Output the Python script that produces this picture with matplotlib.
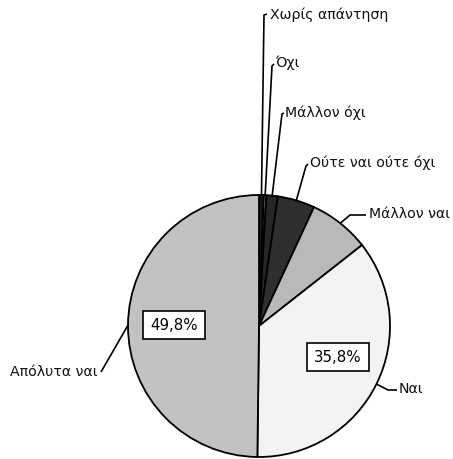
import numpy as np
import matplotlib.pyplot as plt

# Κατανομή απαντήσεων (%)
labels = ['Χωρίς απάντηση', 'Όχι', 'Μάλλον όχι', 'Ούτε ναι ούτε όχι',
          'Μάλλον ναι', 'Ναι', 'Απόλυτα ναι']
values = [0.6, 0.3, 1.4, 4.6, 7.5, 35.8, 49.8]
colors = ['#151515', '#a8a8a8', '#262626', '#2e2e2e', '#b9b9b9', '#f3f3f3', '#c2c2c2']

W, H = 453, 459
fig = plt.figure(figsize=(W / 100, H / 100), dpi=100)
ax = fig.add_axes([0, 0, 1, 1])
ax.set_aspect('equal')

cx, cy, r = 259, H - 326, 131
wedges, _ = ax.pie(values, colors=colors, startangle=90, counterclock=False,
                   center=(cx, cy), radius=r, frame=True,
                   wedgeprops=dict(edgecolor='black', linewidth=1.3))
ax.set_xlim(0, W)
ax.set_ylim(0, H)
ax.axis('off')

# θέσεις ετικετών: (σημεία γραμμής, θέση κειμένου, στοίχιση), y από πάνω
layout = [
    ([(264, 15), (267, 14)], (270, 15), 'left'),
    ([(272, 66), (274, 64)], (275, 63), 'left'),
    ([(282, 114), (284, 113)], (285, 113), 'left'),
    ([(306, 166), (308, 164)], (310, 163), 'left'),
    ([(350, 215), (366, 215)], (369, 214), 'left'),
    ([(388, 390), (397, 390)], (399, 389), 'left'),
    ([(101, 372)], (98, 372), 'right'),
]

for w, lab, (pts, (tx, ty), ha) in zip(wedges, labels, layout):
    ang = np.deg2rad((w.theta1 + w.theta2) / 2)
    ex, ey = cx + r * np.cos(ang), cy + r * np.sin(ang)
    xs = [ex] + [p[0] for p in pts]
    ys = [ey] + [H - p[1] for p in pts]
    ax.plot(xs, ys, color='black', linewidth=1.2, solid_capstyle='butt')
    ax.text(tx, H - ty, lab, ha=ha, va='center', fontsize=10.2,
            family='DejaVu Sans', color='#111111')

# ποσοστά για τις δύο μεγάλες κατηγορίες
box = dict(boxstyle='square,pad=0.45', facecolor='white', edgecolor='black', linewidth=1.2)
ax.text(174, H - 325, f'{values[6]:.1f}%'.replace('.', ','), ha='center', va='center',
        fontsize=10.8, bbox=box)
ax.text(338, H - 357, f'{values[5]:.1f}%'.replace('.', ','), ha='center', va='center',
        fontsize=10.8, bbox=box)

fig.savefig('out.png', dpi=100, facecolor='white')
